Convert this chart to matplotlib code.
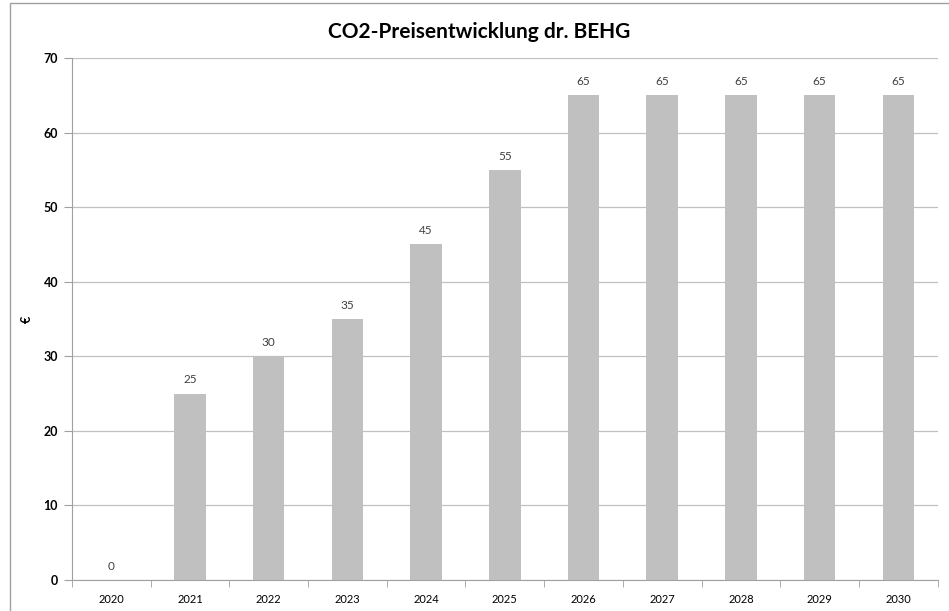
import matplotlib

matplotlib.use("Agg")
import matplotlib.pyplot as plt
from matplotlib.patches import Rectangle

years = ["2020", "2021", "2022", "2023", "2024", "2025", "2026", "2027", "2028", "2029", "2030"]
prices = [0, 25, 30, 35, 45, 55, 65, 65, 65, 65, 65]
y_ticks = [0, 10, 20, 30, 40, 50, 60, 70]

plt.rcParams["font.family"] = ["Lato", "DejaVu Sans"]

fig = plt.figure(figsize=(9.49, 6.11), dpi=100)
ax = fig.add_axes([0.0759, 0.0507, 0.9121, 0.8543])

# chart frame
fig.patches.append(Rectangle((0.0105, -0.01), 1.2, 1.005, transform=fig.transFigure,
                             fill=False, edgecolor="#a0a0a0", linewidth=1.0))

x = list(range(len(years)))
bars = ax.bar(x, prices, width=0.4, color="#c0c0c0", zorder=3)
for xi, v in zip(x, prices):
    ax.text(xi, v + 1.1, f"{v}", ha="center", va="bottom", fontsize=8.5, color="#404040")

ax.set_xlim(-0.5, len(years) - 0.5)
ax.set_ylim(0, 70)
ax.set_yticks(y_ticks)
ax.set_yticklabels([str(t) for t in y_ticks], fontweight="bold", fontsize=9)
ax.set_xticks(x)
ax.set_xticklabels(years, fontsize=8)
ax.set_xticks([i - 0.5 for i in range(len(years) + 1)], minor=True)
ax.tick_params(axis="x", which="major", length=0, pad=10)
ax.tick_params(axis="x", which="minor", length=5, color="#a0a0a0", direction="out")
ax.tick_params(axis="y", length=6, color="#a0a0a0", pad=4)
ax.grid(True, axis="y", color="#c0c0c0", linewidth=0.9, zorder=0)
for side in ["top", "right"]:
    ax.spines[side].set_visible(False)
ax.spines["left"].set_color("#a0a0a0")
ax.spines["bottom"].set_color("#a0a0a0")
ax.set_ylabel("€", fontweight="bold", fontsize=9, labelpad=0)
ax.yaxis.set_label_coords(-0.045, 0.5)

fig.text(0.505, 0.948, "CO2-Preisentwicklung dr. BEHG", ha="center", va="center",
         fontsize=15, fontweight="bold")

fig.savefig("out.png", dpi=100)
